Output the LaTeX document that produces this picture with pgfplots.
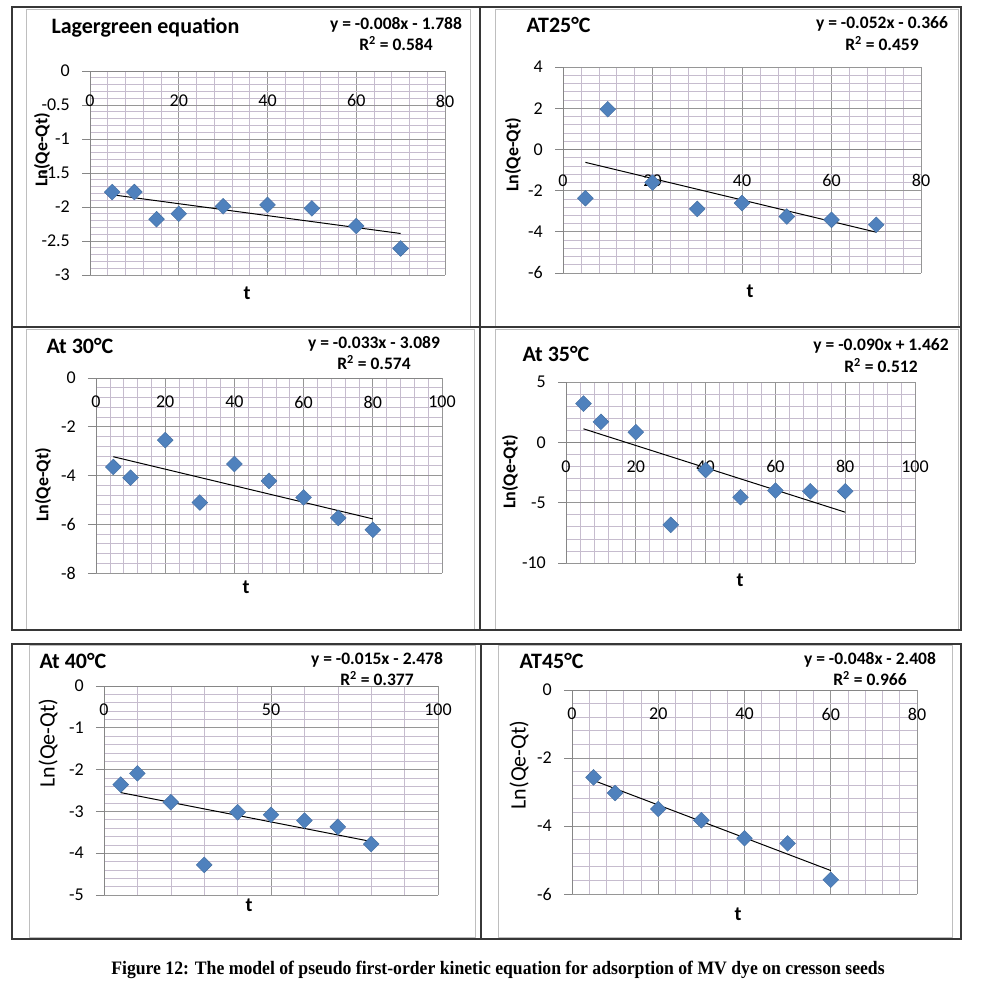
\documentclass[border=0pt]{standalone}
\usepackage{fontspec}
\usepackage{graphicx}
\usepackage{pgfplots}
\pgfplotsset{compat=1.18}
\setmainfont{Carlito}
\newfontfamily\capfont{Liberation Serif}

\definecolor{mblue}{RGB}{79,129,189}
\definecolor{axgray}{RGB}{134,134,134}
\definecolor{majgray}{RGB}{150,150,150}
\definecolor{mingray}{RGB}{198,188,206}
\definecolor{framegray}{RGB}{190,190,190}
\definecolor{cellline}{RGB}{55,55,55}

\newcommand{\tfont}{\bfseries\fontsize{22}{26}\selectfont}
\newcommand{\efont}{\bfseries\fontsize{17.5}{20}\selectfont}
\newcommand{\lfont}{\bfseries\fontsize{20}{24}\selectfont}

\pgfplotsset{
  panel/.style={
    scale only axis, anchor=north west, clip=false,
    axis x line=middle, axis y line=left,
    axis line style={-, draw=axgray, line width=0.9pt},
    grid=both,
    major grid style={draw=majgray, line width=0.7pt},
    minor grid style={draw=mingray, line width=0.6pt},
    minor x tick num=4, minor y tick num=4,
    hide obscured x ticks=false, hide obscured y ticks=false,
    tick label style={font=\fontsize{18}{20}\selectfont, text=black},
    /pgf/number format/assume math mode=true,
    tick align=outside, major tick length=8pt, minor tick length=0pt,
    ytick style={draw=axgray, line width=0.9pt},
    xtick style={draw=none},
    xticklabel style={anchor=center, inner sep=0pt, yshift=-16pt},
    yticklabel style={anchor=east, inner sep=0pt, xshift=-12pt},
  },
  pts/.style={only marks, mark=square*, mark size=5.6pt,
    mark options={rotate=45, fill=mblue, draw=mblue!85!black, line width=0.4pt}},
  trend/.style={black, line width=1pt, no marks},
}

\begin{document}
\begin{tikzpicture}[x=1pt,y=1pt]
\path[use as bounding box] (0,0) rectangle (981,990);

% inner chart frames
\draw[framegray, line width=0.8pt] (26,664) rectangle (470,981);
\draw[framegray, line width=0.8pt] (495,664) rectangle (958,981);
\draw[framegray, line width=0.8pt] (26,361) rectangle (474,661);
\draw[framegray, line width=0.8pt] (495,361) rectangle (958,661);
\draw[framegray, line width=0.8pt] (29,53) rectangle (475,345);
\draw[framegray, line width=0.8pt] (498,53) rectangle (952,345);

% table cell borders
\draw[cellline, line width=1.7pt] (12,360) rectangle (961,983);
\draw[cellline, line width=1.7pt] (12,663) -- (961,663);
\draw[cellline, line width=1.7pt] (480,360) -- (480,983);
\draw[cellline, line width=1.7pt] (12,51) rectangle (961,346);
\draw[cellline, line width=1.7pt] (481,51) -- (481,346);

% ---- Lagergreen equation
\begin{axis}[panel, at={(90pt,919pt)}, width=355pt, height=204pt,
  xmin=0, xmax=80, ymin=-3, ymax=0,
  xtick={0,20,40,60,80}, xticklabels={0,20,40,60,80},
  ytick={-3,-2.5,-2,-1.5,-1,-0.5,0}, yticklabels={-3,-2.5,-2,-1.5,-1,-0.5,0},
  xticklabel style={yshift=-6pt}]
\addplot[pts] coordinates {(5,-1.78) (10,-1.78) (15,-2.18) (20,-2.10) (30,-1.99) (40,-1.97) (50,-2.02) (60,-2.28) (70,-2.61)};
\addplot[trend] coordinates {(5,-1.82) (70,-2.39)};
\end{axis}
\node[anchor=base west, font=\tfont] at (48,956) {Lagergreen equation};
\node[anchor=base, font=\efont] at (396,960.7) {y = -0.008x - 1.788};
\node[anchor=base, font=\efont] at (396,939.3) {R\textsuperscript{2} = 0.584};
\node[anchor=base, font=\lfont] at (247,690) {t};
\node[rotate=90, font=\bfseries\fontsize{18}{20}\selectfont] at (42,840) {Ln(Qe-Qt)};

% ---- AT25
\begin{axis}[panel, at={(563pt,923pt)}, width=358pt, height=206pt,
  xmin=0, xmax=80, ymin=-6, ymax=4,
  xtick={0,20,40,60,80}, xticklabels={0,20,40,60,80},
  ytick={-6,-4,-2,0,2,4}, yticklabels={-6,-4,-2,0,2,4},
  xticklabel style={yshift=-7pt}]
\addplot[pts] coordinates {(5,-2.37) (10,1.95) (20,-1.61) (30,-2.89) (40,-2.61) (50,-3.26) (60,-3.42) (70,-3.66)};
\addplot[trend] coordinates {(5,-0.63) (70,-4.02)};
\end{axis}
\node[anchor=base west, font=\tfont] at (523,957) {AT25°C};
\node[anchor=base, font=\efont] at (882,961) {y = -0.052x - 0.366};
\node[anchor=base, font=\efont] at (882,939) {R\textsuperscript{2} = 0.459};
\node[anchor=base, font=\lfont] at (750,692) {t};
\node[rotate=90, font=\bfseries\fontsize{18}{20}\selectfont] at (513,835) {Ln(Qe-Qt)};

% ---- At 30
\begin{axis}[panel, at={(96pt,612pt)}, width=346pt, height=195pt,
  xmin=0, xmax=100, ymin=-8, ymax=0,
  xtick={0,20,40,60,80,100}, xticklabels={0,20,40,60,80,100},
  ytick={-8,-6,-4,-2,0}, yticklabels={-8,-6,-4,-2,0}]
\addplot[pts] coordinates {(5,-3.65) (10,-4.09) (20,-2.55) (30,-5.11) (40,-3.53) (50,-4.22) (60,-4.90) (70,-5.74) (80,-6.23)};
\addplot[trend] coordinates {(5,-3.23) (80,-5.78)};
\end{axis}
\node[anchor=base west, font=\tfont] at (43,636) {At 30°C};
\node[anchor=base, font=\efont] at (374,641) {y = -0.033x - 3.089};
\node[anchor=base, font=\efont] at (374,620) {R\textsuperscript{2} = 0.574};
\node[anchor=base, font=\lfont] at (246,396) {t};
\node[rotate=90, font=\bfseries\fontsize{18}{20}\selectfont] at (43,505) {Ln(Qe-Qt)};

% ---- At 35
\begin{axis}[panel, at={(566pt,608pt)}, width=349pt, height=181pt,
  xmin=0, xmax=100, ymin=-10, ymax=5,
  xtick={0,20,40,60,80,100}, xticklabels={0,20,40,60,80,100},
  ytick={-10,-5,0,5}, yticklabels={-10,-5,0,5}]
\addplot[pts] coordinates {(5,3.21) (10,1.70) (20,0.84) (30,-6.84) (40,-2.29) (50,-4.55) (60,-4.00) (70,-4.06) (80,-4.06)};
\addplot[trend] coordinates {(5,1.12) (80,-5.79)};
\end{axis}
\node[anchor=base west, font=\tfont] at (519,628) {At 35°C};
\node[anchor=base, font=\efont] at (881,639) {y = -0.090x + 1.462};
\node[anchor=base, font=\efont] at (881,617) {R\textsuperscript{2} = 0.512};
\node[anchor=base, font=\lfont] at (740,403) {t};
\node[rotate=90, font=\bfseries\fontsize{18}{20}\selectfont] at (510,518) {Ln(Qe-Qt)};

% ---- At 40
\begin{axis}[panel, at={(104pt,304pt)}, width=334pt, height=209pt,
  xmin=0, xmax=100, ymin=-5, ymax=0,
  xtick={0,50,100}, xticklabels={0,50,100},
  ytick={-5,-4,-3,-2,-1,0}, yticklabels={-5,-4,-3,-2,-1,0}]
\addplot[pts] coordinates {(5,-2.36) (10,-2.09) (20,-2.78) (30,-4.28) (40,-3.02) (50,-3.08) (60,-3.22) (70,-3.37) (80,-3.78)};
\addplot[trend] coordinates {(5,-2.55) (80,-3.72)};
\end{axis}
\node[anchor=base west, font=\tfont] at (36,321) {At 40°C};
\node[anchor=base, font=\efont] at (377,325) {y = -0.015x - 2.478};
\node[anchor=base, font=\efont] at (377,304) {R\textsuperscript{2} = 0.377};
\node[anchor=base, font=\lfont] at (249,78) {t};
\node[rotate=90, font=\fontsize{22}{24}\selectfont] at (48,247) {Ln(Qe-Qt)};

% ---- AT45
\begin{axis}[panel, at={(572pt,300pt)}, width=345pt, height=204pt,
  xmin=0, xmax=80, ymin=-6, ymax=0,
  xtick={0,20,40,60,80}, xticklabels={0,20,40,60,80},
  ytick={-6,-4,-2,0}, yticklabels={-6,-4,-2,0}]
\addplot[pts] coordinates {(5,-2.57) (10,-3.03) (20,-3.50) (30,-3.83) (40,-4.36) (50,-4.51) (60,-5.58)};
\addplot[trend] coordinates {(5,-2.66) (60,-5.31)};
\end{axis}
\node[anchor=base west, font=\tfont] at (516,321) {AT45°C};
\node[anchor=base, font=\efont] at (870,325) {y = -0.048x - 2.408};
\node[anchor=base, font=\efont] at (870,304) {R\textsuperscript{2} = 0.966};
\node[anchor=base, font=\lfont] at (738,69) {t};
\node[rotate=90, font=\fontsize{22}{24}\selectfont] at (519,225) {Ln(Qe-Qt)};

% caption
\node[font=\capfont\bfseries\fontsize{19}{22}\selectfont] at (498,20)
  {\scalebox{0.93}[1]{Figure 12: The model of pseudo first-order kinetic equation for adsorption of MV dye on cresson seeds}};
\end{tikzpicture}
\end{document}
